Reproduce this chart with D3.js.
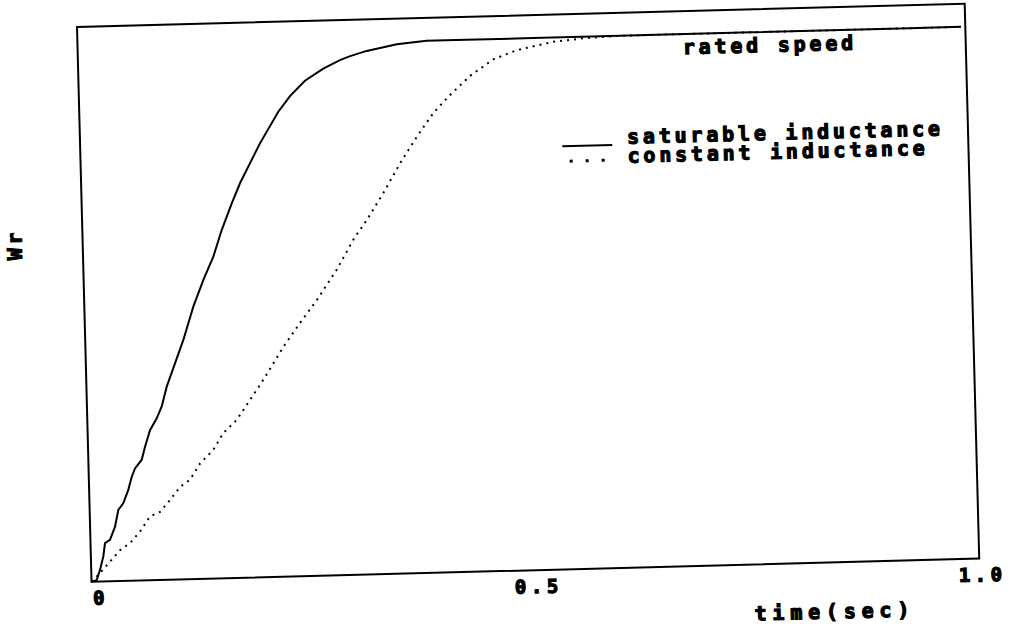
<!DOCTYPE html>
<html>
<head>
<meta charset="utf-8">
<script src="https://cdn.jsdelivr.net/npm/d3@7"></script>
<style>
  body { margin: 0; background: #fff; }
  text { font-family: "DejaVu Sans Mono", monospace; font-weight: bold; fill: #000; stroke: #000; stroke-width: 1.2px; }
</style>
</head>
<body>
<div id="chart"></div>
<script>
// Rotor speed vs time (speed normalised to rated speed)
const timeSat = [0, 0.0059, 0.0099, 0.014, 0.0163, 0.022, 0.028, 0.0323, 0.038, 0.0441, 0.0483, 0.0523,
  0.0601, 0.0642, 0.0703, 0.0782, 0.0842, 0.0904, 0.0932, 0.1105, 0.1227, 0.1348, 0.1467, 0.157, 0.169,
  0.179, 0.1908, 0.2027, 0.2241, 0.2377, 0.255, 0.276, 0.295, 0.3066, 0.3254, 0.3595, 0.393, 0.438,
  0.513, 0.589, 0.758, 0.927, 0.995];
const speedSat = [0, 0.003, 0.022, 0.047, 0.072, 0.078, 0.102, 0.134, 0.146, 0.171, 0.195, 0.211,
  0.227, 0.251, 0.282, 0.304, 0.326, 0.363, 0.375, 0.450, 0.512, 0.562, 0.605, 0.655, 0.704,
  0.742, 0.779, 0.816, 0.874, 0.903, 0.931, 0.953, 0.968, 0.975, 0.984, 0.995, 1.0, 1.0,
  1.0, 1.0, 1.0, 1.0, 1.0];

const timeConst = [0, 0.0098, 0.0214, 0.033, 0.0445, 0.0561, 0.0678, 0.0792, 0.0908, 0.1025, 0.1139,
  0.1257, 0.141, 0.1527, 0.1682, 0.1838, 0.1993, 0.2229, 0.2423, 0.2618, 0.2851, 0.3048, 0.3204,
  0.3399, 0.3596, 0.3792, 0.3986, 0.416, 0.441, 0.4677, 0.4943, 0.5357, 0.5696, 0.61, 0.995];
const speedConst = [0, 0.016, 0.037, 0.058, 0.071, 0.092, 0.120, 0.128, 0.150, 0.174, 0.187,
  0.217, 0.242, 0.273, 0.297, 0.334, 0.371, 0.432, 0.476, 0.518, 0.574, 0.630, 0.666,
  0.716, 0.771, 0.820, 0.864, 0.894, 0.932, 0.962, 0.978, 0.992, 0.997, 1.0, 1.0];

const tickValues = [0, 0.5, 1.0];
const tickLabels = ["0", "0.5", "1.0"];
const legendLabels = ["saturable inductance", "constant inductance"];

const width = 1016, height = 624;
const plotLeft = 77, plotTop = 27, plotRight = 965, plotBottom = 582;

const svg = d3.select("#chart").append("svg")
  .attr("width", width)
  .attr("height", height);

// the scan is tilted a little, so the whole plot is turned about its top-left corner
const g = svg.append("g")
  .attr("transform", `rotate(-1.5, ${plotLeft}, ${plotTop})`);

const x = d3.scaleLinear().domain([0, 1]).range([plotLeft, plotRight]);
const y = d3.scaleLinear().domain([0, 1.0432]).range([plotBottom, plotTop]);

// plot frame
g.append("rect")
  .attr("x", plotLeft).attr("y", plotTop)
  .attr("width", plotRight - plotLeft).attr("height", plotBottom - plotTop)
  .attr("fill", "none").attr("stroke", "#000").attr("stroke-width", 2);

const line = d3.line().x(d => x(d[0])).y(d => y(d[1]));

g.append("path")
  .datum(d3.zip(timeConst, speedConst))
  .attr("d", line)
  .attr("fill", "none").attr("stroke", "#000")
  .attr("stroke-width", 2).attr("stroke-dasharray", "2,5");

g.append("path")
  .datum(d3.zip(timeSat, speedSat))
  .attr("d", line)
  .attr("fill", "none").attr("stroke", "#000")
  .attr("stroke-width", 2);

// tick labels under the time axis
g.selectAll("text.tick")
  .data(tickValues)
  .join("text")
  .attr("class", "tick")
  .attr("x", (d, i) => i === 0 ? x(d) + 1 : x(d) + 3)
  .attr("y", 605)
  .attr("text-anchor", (d, i) => i === 0 ? "start" : "middle")
  .style("font-size", "19px")
  .style("letter-spacing", "4.5px")
  .text((d, i) => tickLabels[i]);

g.append("text")
  .attr("x", 739).attr("y", 638)
  .style("font-size", "20px").style("letter-spacing", "5.8px")
  .text("time(sec)");

g.append("text")
  .attr("transform", "translate(16,243) rotate(-90)")
  .attr("text-anchor", "middle")
  .style("font-size", "20px").style("letter-spacing", "3.5px")
  .text("Wr");

g.append("text")
  .attr("x", 682).attr("y", 70)
  .style("font-size", "20px").style("letter-spacing", "3.8px")
  .text("rated speed");

// legend
const legend = g.append("g");
legend.append("line")
  .attr("x1", 559).attr("x2", 609).attr("y1", 159).attr("y2", 159)
  .attr("stroke", "#000").attr("stroke-width", 2);
legend.append("line")
  .attr("x1", 566).attr("x2", 603).attr("y1", 174).attr("y2", 174)
  .attr("stroke", "#000").attr("stroke-width", 3).attr("stroke-dasharray", "3,13");
legend.selectAll("text.leg")
  .data(legendLabels)
  .join("text")
  .attr("class", "leg")
  .attr("x", 624)
  .attr("y", (d, i) => 158 + i * 19)
  .style("font-size", "20px").style("letter-spacing", "3.8px")
  .text(d => d);
</script>
</body>
</html>
